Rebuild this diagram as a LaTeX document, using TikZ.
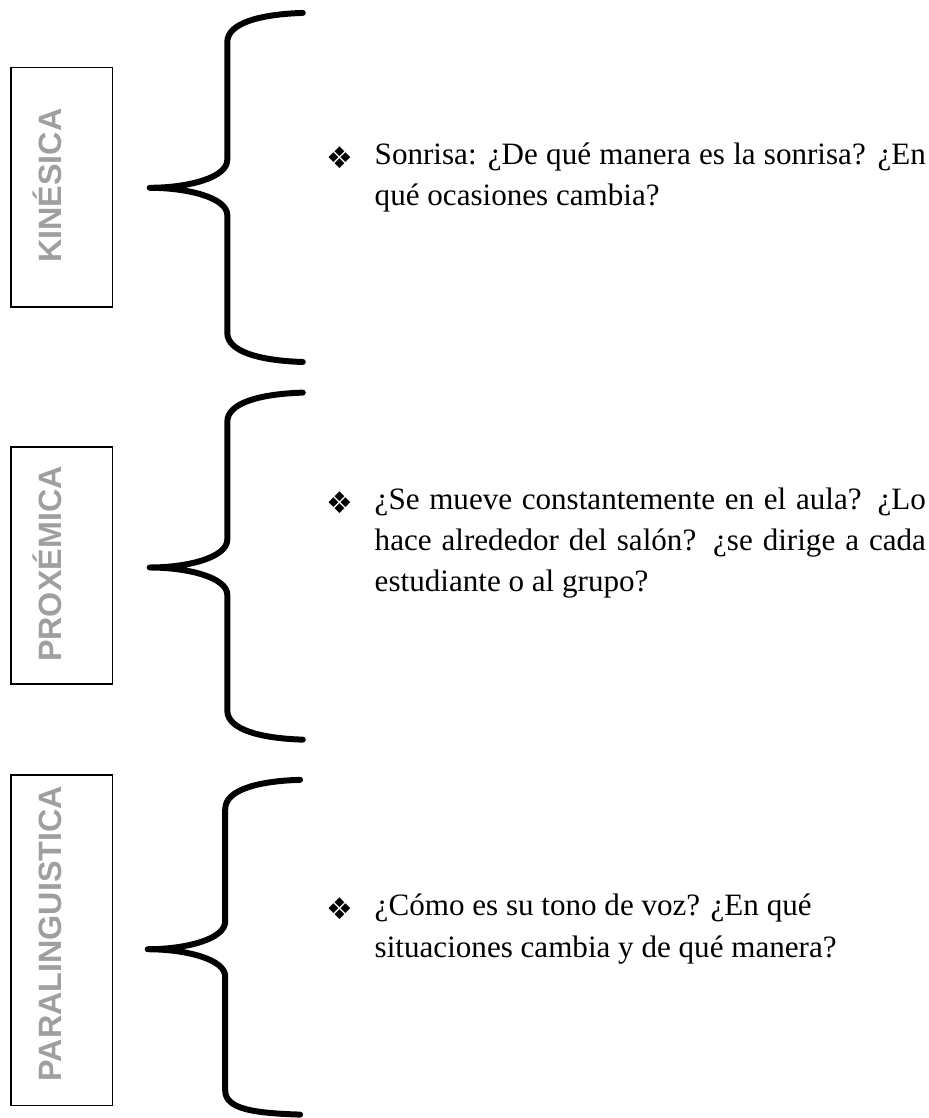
\documentclass[tikz,border=0pt]{standalone}
\usepackage{fontspec}
\setmainfont{Liberation Serif}
\newfontfamily\etiqfont{Liberation Sans}
\newfontfamily\simbfont{DejaVu Sans}
\begin{document}
\begin{tikzpicture}[
  llave/.style={line width=2.5pt, line cap=round, line join=round},
  caja/.style={line width=0.6pt},
  etiqueta/.style={rotate=90, anchor=base, inner sep=0pt, text=gray!75,
    font=\etiqfont\bfseries\fontsize{13.5}{16}\selectfont},
  texto/.style={anchor=base west, inner sep=0pt, text width=8.1cm, align=justify,
    font=\fontsize{13}{17.2}\selectfont},
  vineta/.style={anchor=center, inner sep=0pt, font=\simbfont\fontsize{12.5}{13}\selectfont}
]
\useasboundingbox (0,0) rectangle (13.64,16.43);
% cajas de la izquierda
\draw [caja] (0.16,11.92) rectangle (1.65,15.44);
\node [etiqueta] (kin) at (0.91,13.70) {KINÉSICA};
\draw [caja] (0.16,6.38) rectangle (1.65,9.86);
\node [etiqueta] (prox) at (0.91,8.14) {PROXÉMICA};
\draw [caja] (0.16,0.18) rectangle (1.65,5.04);
\node [etiqueta] (para) at (0.91,2.71) {PARALINGUISTICA};
% llaves
\draw [llave] (4.45,16.24) .. controls (3.82,16.22) and (3.34,16.09) .. (3.34,15.81) -- (3.34,14.08) .. controls (3.34,13.82) and (2.77,13.67) .. (2.20,13.67) .. controls (2.77,13.67) and (3.34,13.52) .. (3.34,13.27) -- (3.34,11.54) .. controls (3.34,11.26) and (3.82,11.13) .. (4.45,11.11);
\draw [llave] (4.45,10.66) .. controls (3.82,10.64) and (3.34,10.51) .. (3.34,10.23) -- (3.34,8.50) .. controls (3.34,8.24) and (2.77,8.09) .. (2.20,8.09) .. controls (2.77,8.09) and (3.34,7.94) .. (3.34,7.69) -- (3.34,5.99) .. controls (3.34,5.71) and (3.82,5.58) .. (4.45,5.56);
\draw [llave] (4.41,4.97) .. controls (3.78,4.95) and (3.31,4.82) .. (3.31,4.54) -- (3.31,2.89) .. controls (3.31,2.63) and (2.74,2.48) .. (2.17,2.48) .. controls (2.74,2.48) and (3.31,2.33) .. (3.31,2.08) -- (3.31,0.40) .. controls (3.31,0.12) and (3.78,0.07) .. (4.41,0.05);
% textos
\node [texto] (t1) at (5.50,14.01) {Sonrisa: ¿De qué manera es la sonrisa? ¿En qué ocasiones cambia?};
\node [vineta] (v1) at ([xshift=-0.5cm,yshift=0.1cm]t1.base west) {❖};
\node [texto] (t2) at (5.50,8.94) {¿Se mueve constantemente en el aula? ¿Lo hace alrededor del salón? ¿se dirige a cada estudiante o al grupo?};
\node [vineta] (v2) at ([xshift=-0.5cm,yshift=0.1cm]t2.base west) {❖};
\node [texto] (t3) at (5.50,2.97) {¿Cómo es su tono de voz? ¿En qué\\ situaciones cambia y de qué manera?};
\node [vineta] (v3) at ([xshift=-0.5cm,yshift=0.1cm]t3.base west) {❖};
\end{tikzpicture}
\end{document}
